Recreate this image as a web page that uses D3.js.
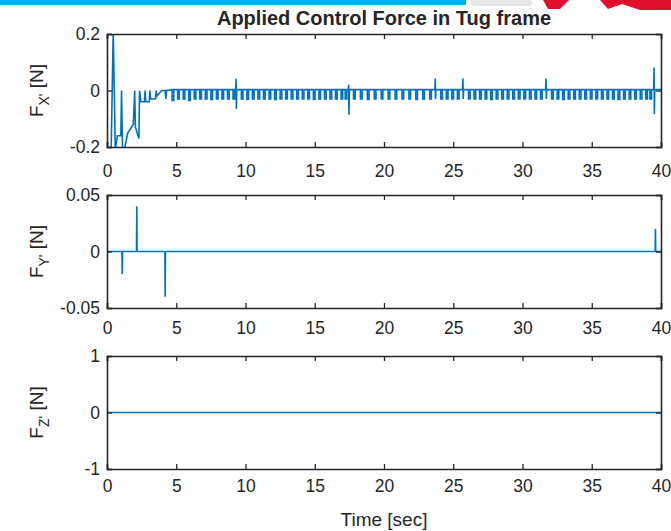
<!DOCTYPE html>
<html><head><meta charset="utf-8">
<script src="https://cdn.jsdelivr.net/npm/d3@7"></script>
<style>body{margin:0;background:#fff;} text{font-family:"Liberation Sans",Arial,sans-serif;fill:#262626;}</style>
</head><body>
<svg id="chart" width="671" height="531"></svg>
<script>
// ---------- data ----------
const xTicks = [0,5,10,15,20,25,30,35,40];
const yTicks1 = [-0.2,0,0.2], yTickLabels1 = ["-0.2","0","0.2"];
const yTicks2 = [-0.05,0,0.05], yTickLabels2 = ["-0.05","0","0.05"];
const yTicks3 = [-1,0,1], yTickLabels3 = ["-1","0","1"];

// Fx' initial transient (time, value)
const fxTransT = [0,0.3,0.45,0.6,0.75,1.0,1.05,1.12,1.25,1.5,1.9,2.0,2.05,2.3,2.35,2.45,2.7,2.75,2.8,3.05,3.1,3.15,3.5,3.55,3.6,3.95,4.2,4.25,4.3];
const fxTransV = [-0.21,-0.21,0.21,-0.21,-0.16,-0.16,0.0,-0.21,-0.21,-0.15,-0.12,0.0,-0.13,-0.17,0.0,-0.04,-0.04,0.0,-0.04,-0.04,0.0,-0.03,-0.03,0.0,-0.02,0.0,0.0,-0.03,0.0];
// Fx' periodic small dips (time, dip value)
const fxPulseT = [4.7,5.1,5.5,5.9,6.3,6.7,7.1,7.5,7.9,8.3,8.7,9.1,9.7,10.1,10.5,10.9,11.3,11.7,12.1,12.5,12.9,13.3,13.7,14.1,14.5,14.9,15.3,15.7,16.1,16.5,16.9,17.2,17.8,18.3,18.8,19.3,19.8,20.3,20.8,21.3,21.8,22.3,22.8,23.3,24.1,24.5,24.9,25.3,26.1,26.5,26.9,27.3,27.7,28.1,28.5,28.9,29.3,29.7,30.1,30.5,30.9,31.3,32.1,32.5,32.9,33.3,33.7,34.1,34.5,34.9,35.3,35.7,36.1,36.5,36.9,37.3,37.7,38.1,38.5,38.9,39.2];
const fxPulseV = [-0.035,-0.03,-0.03,-0.035,-0.03,-0.03,-0.03,-0.032,-0.03,-0.03,-0.03,-0.03,-0.03,-0.032,-0.03,-0.03,-0.03,-0.03,-0.032,-0.03,-0.03,-0.03,-0.03,-0.03,-0.03,-0.032,-0.03,-0.03,-0.03,-0.03,-0.03,-0.03,-0.03,-0.03,-0.032,-0.03,-0.03,-0.03,-0.03,-0.03,-0.03,-0.032,-0.03,-0.03,-0.03,-0.03,-0.03,-0.03,-0.03,-0.03,-0.03,-0.03,-0.032,-0.03,-0.03,-0.03,-0.03,-0.03,-0.03,-0.03,-0.03,-0.03,-0.03,-0.03,-0.032,-0.03,-0.03,-0.03,-0.03,-0.03,-0.03,-0.03,-0.03,-0.03,-0.032,-0.03,-0.03,-0.03,-0.03,-0.03,-0.03];
const fxBase = [0.003];
const fxPulseWidth = [0.12];
// Fx' larger spikes (time, high, low)
const fxSpikeT  = [9.32, 17.45, 23.7, 25.7, 31.7, 39.5];
const fxSpikeHi = [0.042, 0.02, 0.042, 0.042, 0.042, 0.081];
const fxSpikeLo = [-0.065, -0.086, -0.03, -0.03, -0.03, -0.083];

// Fy' spikes
const fySpikeT = [1.1, 2.15, 4.2, 39.6];
const fySpikeV = [-0.02, 0.04, -0.04, 0.02];
// Fz' is zero throughout
const fzT = [0, 40];
const fzV = [0, 0];

// ---------- build series ----------
function buildFx(){
  const pts = fxTransT.map((t,i)=>[t,fxTransV[i]]);
  const ev = [];
  fxPulseT.forEach((t,i)=>ev.push({t, k:"p", lo:fxPulseV[i]}));
  fxSpikeT.forEach((t,i)=>ev.push({t, k:"s", hi:fxSpikeHi[i], lo:fxSpikeLo[i]}));
  ev.sort((a,b)=>a.t-b.t);
  const b = fxBase[0], w = fxPulseWidth[0];
  ev.forEach(e=>{
    if(e.k==="p"){ pts.push([e.t,b],[e.t,e.lo],[e.t+w,e.lo],[e.t+w,b]); }
    else { pts.push([e.t-0.03,b],[e.t,e.hi],[e.t+0.02,e.lo],[e.t+0.05,b]); }
  });
  pts.push([40,b]);
  return pts;
}
function buildFy(){
  const pts=[[0,0]];
  fySpikeT.forEach((t,i)=>pts.push([t-0.02,0],[t,fySpikeV[i]],[t+0.02,0]));
  pts.push([40,0]);
  return pts;
}

// ---------- layout ----------
const svg = d3.select("#chart");
const L = 107, R = 661, H = 113;
const tops = [34, 195, 356];
const xPad = [18, 14, 11];
const lineColor = "#0072BD", axisColor = "#262626";
const fs = 17.5;

// slide decoration at top
svg.append("rect").attr("x",0).attr("y",0).attr("width",466).attr("height",5).attr("fill","#00B4F0");
svg.append("rect").attr("x",470).attr("y",0).attr("width",62).attr("height",6).attr("rx",3).attr("fill","#e6e6e6");
svg.append("path").attr("d","M543,0 L569,0 L560,9 L548,9 Z").attr("fill","#e0102e");
svg.append("path").attr("d","M600,0 L671,0 L671,10 L640,10 L622,4 L608,9 Z").attr("fill","#e0102e");

const x = d3.scaleLinear().domain([0,40]).range([L,R]);

const panels = [
  {data:buildFx(), dom:[-0.2,0.2], ticks:yTicks1, labels:yTickLabels1, sub:"X'"},
  {data:buildFy(), dom:[-0.05,0.05], ticks:yTicks2, labels:yTickLabels2, sub:"Y'"},
  {data:fzT.map((t,i)=>[t,fzV[i]]), dom:[-1,1], ticks:yTicks3, labels:yTickLabels3, sub:"Z'"}
];

panels.forEach((p,pi)=>{
  const top = tops[pi], bot = top+H;
  const y = d3.scaleLinear().domain(p.dom).range([bot, top]);
  const g = svg.append("g");
  const cid = "clip"+pi;
  svg.append("clipPath").attr("id",cid).append("rect").attr("x",L).attr("y",top).attr("width",R-L).attr("height",H);
  g.append("path").datum(p.data)
    .attr("clip-path",`url(#${cid})`)
    .attr("fill","none").attr("stroke",lineColor).attr("stroke-width",1.6)
    .attr("d", d3.line().x(d=>x(d[0])).y(d=>y(d[1])));
  // axes
  const xb = d3.axisBottom(x).tickValues(xTicks).tickSize(-5).tickPadding(xPad[pi]).tickFormat(d3.format("d"));
  const xt = d3.axisTop(x).tickValues(xTicks).tickSize(-5).tickFormat("");
  const yl = d3.axisLeft(y).tickValues(p.ticks).tickSize(-5).tickPadding(7).tickFormat((d,i)=>p.labels[i]);
  const yr = d3.axisRight(y).tickValues(p.ticks).tickSize(-5).tickFormat("");
  [[xb,`translate(0,${bot})`],[xt,`translate(0,${top})`],[yl,`translate(${L},0)`],[yr,`translate(${R},0)`]].forEach(([ax,tr])=>{
    const a = g.append("g").attr("transform",tr).call(ax);
    a.select(".domain").attr("stroke",axisColor).attr("stroke-width",1.6);
    a.selectAll(".tick line").attr("stroke",axisColor).attr("stroke-width",1.3);
    a.selectAll(".tick text").attr("font-size",fs).attr("fill",axisColor).style("font-family","'Liberation Sans',Arial,sans-serif");
  });
  // y label
  const t = g.append("text").attr("transform",`translate(43,${(top+bot)/2}) rotate(-90)`)
    .attr("text-anchor","middle").attr("font-size",19);
  t.append("tspan").text("F");
  t.append("tspan").attr("font-size",14).attr("dy",6).text(p.sub);
  t.append("tspan").attr("dy",-6).text(" [N]");
});

svg.append("text").attr("x",(L+R)/2).attr("y",25).attr("text-anchor","middle")
  .attr("font-size",20).attr("font-weight","bold").attr("fill","#000").text("Applied Control Force in Tug frame");
svg.append("text").attr("x",(L+R)/2).attr("y",526).attr("text-anchor","middle")
  .attr("font-size",19).text("Time [sec]");
</script>
</body></html>
